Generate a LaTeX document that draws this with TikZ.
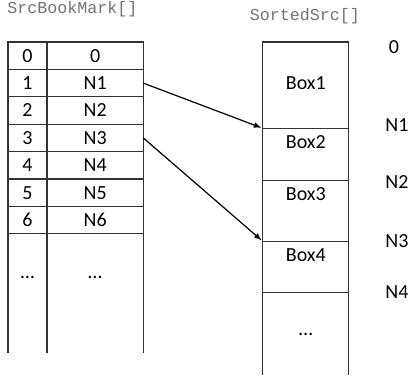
\documentclass[tikz,border=0pt]{standalone}
\usepackage{fontspec}
\setmainfont{Carlito}
\newfontfamily\codefont{Liberation Mono}
\usepackage{tikz}
\usetikzlibrary{calc,positioning,arrows}

\begin{document}
\begin{tikzpicture}
		[x=0.75pt, y=-0.75pt, font=\fontsize{15}{18}\selectfont,
		% STYLES
		% The title style is used for the names of the two arrays
		title/.style={inner sep=0pt, text=black!55, font=\fontsize{12.5}{15}\selectfont\codefont},
		% index cell of the bookmark array
		idxCell/.style={rectangle, draw=black!80, line width=0.8pt, inner sep=0pt, outer sep=0pt, minimum width=29.25pt, minimum height=20.55pt},
		% value cell of the bookmark array
		valCell/.style={idxCell, minimum width=72.2pt},
		% one box of the sorted array
		boxCell/.style={rectangle, draw=black!80, line width=0.8pt, inner sep=0pt, outer sep=0pt, minimum width=64.7pt},
		% text written near the top of a box
		boxText/.style={anchor=north, inner sep=0pt, yshift=-5.25pt},
		% offsets beside the sorted array
		offset/.style={inner sep=0pt},
		% open sides below the last row
		openSide/.style={draw=black!80, line width=0.8pt}]

		\useasboundingbox (0,0) rectangle (412,379);

		% Titles
		\node [title, anchor=base west] (srcName) at (7,13) {SrcBookMark[]};
		\node [title, anchor=base] (sortedName) at (305,20.5) {SortedSrc[]};

		% Draw the bookmark array
		\node [idxCell, anchor=north west] (idx0) at (8,42) {0};
		\node [idxCell, below=0pt of idx0] (idx1) {1};
		\node [idxCell, below=0pt of idx1] (idx2) {2};
		\node [idxCell, below=0pt of idx2] (idx3) {3};
		\node [idxCell, below=0pt of idx3] (idx4) {4};
		\node [idxCell, below=0pt of idx4] (idx5) {5};
		\node [idxCell, below=0pt of idx5] (idx6) {6};

		\node [valCell, right=0pt of idx0] (val0) {0};
		\node [valCell, below=0pt of val0] (val1) {N1};
		\node [valCell, below=0pt of val1] (val2) {N2};
		\node [valCell, below=0pt of val2] (val3) {N3};
		\node [valCell, below=0pt of val3] (val4) {N4};
		\node [valCell, below=0pt of val4] (val5) {N5};
		\node [valCell, below=0pt of val5] (val6) {N6};

		\node (idxDots) at ($(idx6.south)+(0,44)$) {\dots};
		\node (valDots) at ($(val6.south)+(0,44)$) {\dots};

		\path[openSide]
			(idx6.south west) -- ++(0,119)
			(idx6.south east) -- ++(0,119)
			(val6.south east) -- ++(0,119);

		% Draw the sorted array
		\node [boxCell, minimum height=64.7pt, anchor=north west,
			label={[boxText, yshift=-20.25pt]north:Box1}] (box1) at (262.7,42) {};
		\node [boxCell, minimum height=39pt, below=0pt of box1,
			label={[boxText]north:Box2}] (box2) {};
		\node [boxCell, minimum height=45.75pt, below=0pt of box2,
			label={[boxText]north:Box3}] (box3) {};
		\node [boxCell, minimum height=38.5pt, below=0pt of box3,
			label={[boxText]north:Box4}] (box4) {};

		\node (boxDots) at ($(box4.south)+(0,42)$) {\dots};

		\path[openSide]
			(box4.south west) -- ++(0,82)
			(box4.south east) -- ++(0,82);

		%%%%%%%%%%%%%%%
		% Offsets
		\node [offset] (off0) at (394,47) {0};
		\node [offset] (off1) at (397,125) {N1};
		\node [offset] (off2) at (397,182.5) {N2};
		\node [offset] (off3) at (397,241.5) {N3};
		\node [offset] (off4) at (397,292.5) {N4};

		%%%%%%%%%%%%%%%%
		% Draw the links between the arrays
		\path[->, >=latex, line width=0.9pt, shorten >=1.2pt]
			(val1.east) edge (box2.north west)
			(val3.east) edge (box4.north west);
    \end{tikzpicture}
\end{document}
